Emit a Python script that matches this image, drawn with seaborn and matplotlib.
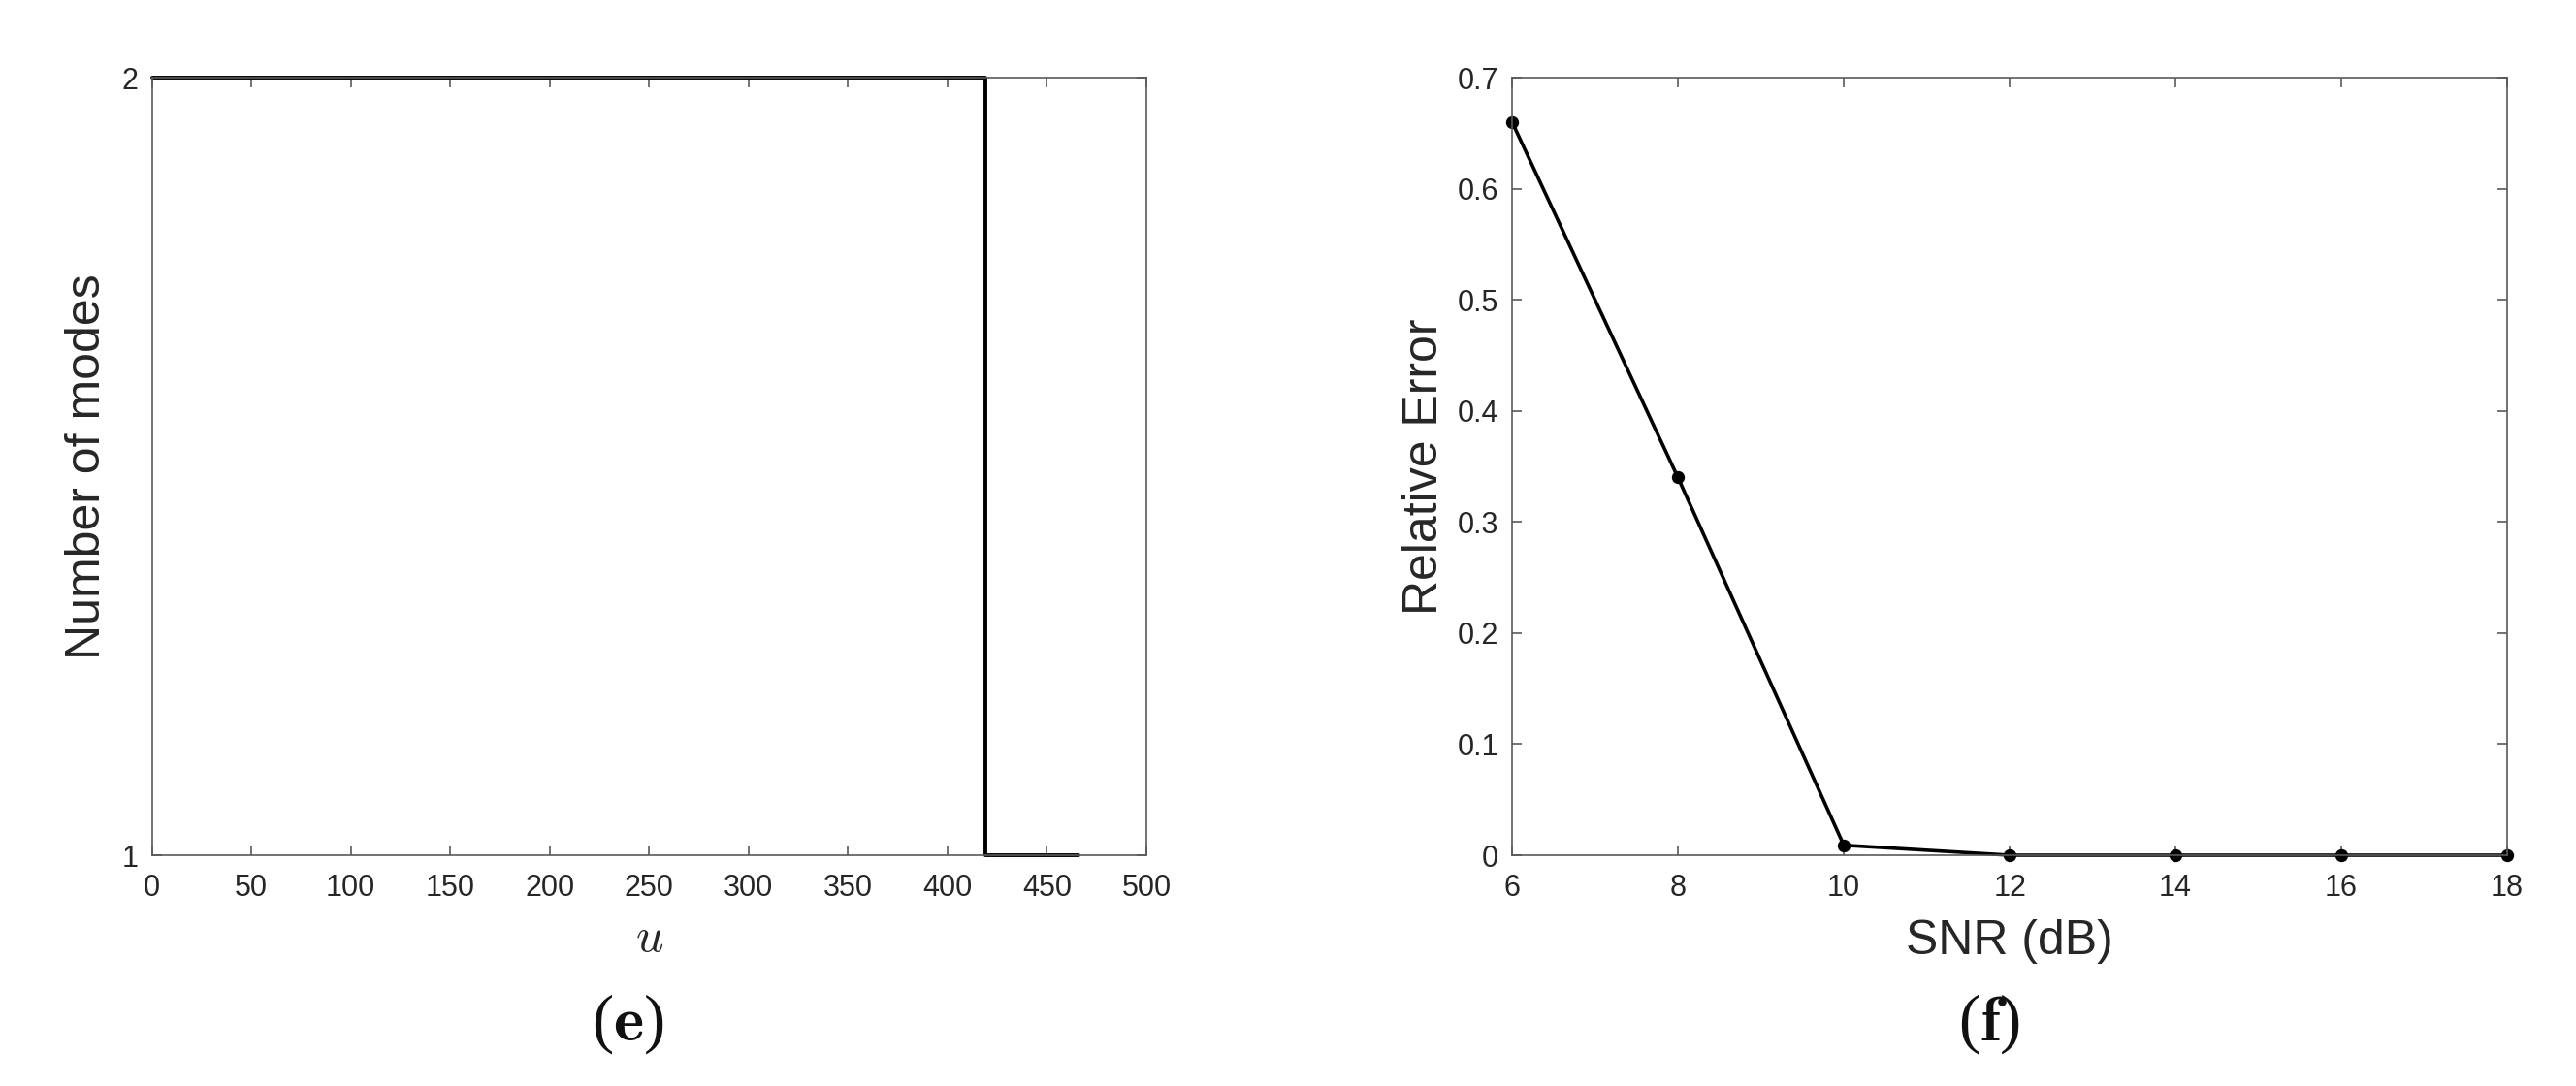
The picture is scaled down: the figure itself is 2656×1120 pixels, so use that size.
import numpy as np
import pandas as pd
import matplotlib
matplotlib.use("Agg")
import matplotlib.pyplot as plt
import seaborn as sns
from matplotlib.ticker import FuncFormatter

# (e) number of modes vs u (step change)
u_vals = [0, 419, 466]
n_modes = [2, 1, 1]

# (f) relative error vs SNR
snr_db = [6, 8, 10, 12, 14, 16, 18]
rel_err = [0.66, 0.34, 0.009, 0.0, 0.0, 0.0, 0.0]

u_ticks = [0, 50, 100, 150, 200, 250, 300, 350, 400, 450, 500]
mode_ticks = [1, 2]
snr_ticks = [6, 8, 10, 12, 14, 16, 18]
err_ticks = [0, 0.1, 0.2, 0.3, 0.4, 0.5, 0.6, 0.7]

sns.set_style("ticks")
plt.rcParams["font.family"] = ["Liberation Sans", "DejaVu Sans"]
plt.rcParams["mathtext.fontset"] = "cm"

axis_col = "#5a5a5a"
text_col = "#262626"

fig = plt.figure(figsize=(13.28, 5.6), dpi=200)
ax1 = fig.add_axes([0.059, 0.2125, 0.386, 0.716])
ax2 = fig.add_axes([0.587, 0.2125, 0.3863, 0.716])

df_e = pd.DataFrame({"u": u_vals, "modes": n_modes})
sns.lineplot(data=df_e, x="u", y="modes", ax=ax1, color="black", lw=1.4,
             drawstyle="steps-post", sort=False, clip_on=False)

df_f = pd.DataFrame({"snr": snr_db, "err": rel_err})
sns.lineplot(data=df_f, x="snr", y="err", ax=ax2, color="black", lw=1.3,
             marker="o", markersize=4.8, markeredgewidth=0, sort=False,
             clip_on=False)

ax1.set_xlim(0, 500)
ax1.set_ylim(1, 2)
ax1.set_xticks(u_ticks)
ax1.set_yticks(mode_ticks)
ax1.set_xlabel(r"$u$", fontsize=18, color=text_col, labelpad=5)
ax1.set_ylabel("Number of modes", fontsize=18, color=text_col, labelpad=4.5)

ax2.set_xlim(6, 18)
ax2.set_ylim(0, 0.7)
ax2.set_xticks(snr_ticks)
ax2.set_yticks(err_ticks)
ax2.yaxis.set_major_formatter(FuncFormatter(lambda v, p: f"{v:g}"))
ax2.set_xlabel("SNR (dB)", fontsize=18, color=text_col, labelpad=6)
ax2.set_ylabel("Relative Error", fontsize=18, color=text_col, labelpad=4)

for ax in (ax1, ax2):
    for sp in ax.spines.values():
        sp.set_visible(True)
        sp.set_color(axis_col)
        sp.set_linewidth(0.6)
    ax.tick_params(direction="in", length=3.6, width=0.6, color=axis_col,
                   top=True, right=True, labelsize=11, labelcolor=text_col)
    ax.tick_params(axis="x", pad=7)
    ax.tick_params(axis="y", pad=5)
    ax.grid(False)

fig.text(0.2436, 0.057, r"($\mathbf{e}$)", fontsize=24, ha="center", va="center",
         family="Liberation Serif", color="#111111")
fig.text(0.772, 0.057, r"($\mathbf{f}$)", fontsize=24, ha="center", va="center",
         family="Liberation Serif", color="#111111")

fig.savefig("out.png", dpi=200, facecolor="white")
